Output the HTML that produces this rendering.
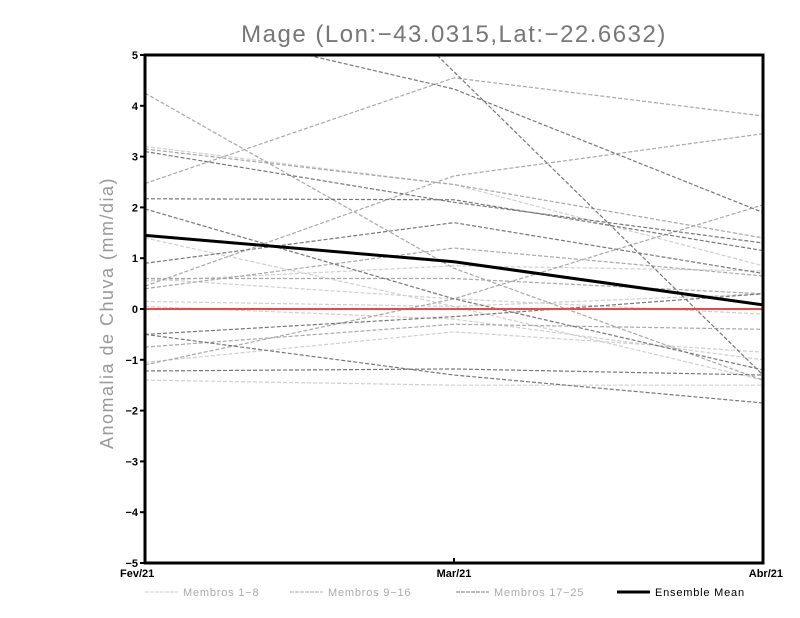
<!DOCTYPE html>
<html><head><meta charset="utf-8"><style>body{margin:0;background:#fff}svg{display:block;font-family:"Liberation Sans",sans-serif}</style></head>
<body>
<svg id="c" width="800" height="618"></svg>
<script>
const categories=["Fev/21","Mar/21","Abr/21"];
const yTicks=[-5,-4,-3,-2,-1,0,1,2,3,4,5];
const membrosLight=[[3.2,2.45,0.85],[1.4,0.05,-1.4],[0.55,0.85,0.75],[0.15,0.05,0.3],[-1.4,-1.5,-1.5],[-1.05,-0.45,-0.85],[0.05,-0.2,-1.0],[0.6,0.2,-0.1]];
const membrosMid=[[4.25,0.8,-1.4],[3.15,2.45,1.4],[2.47,4.55,3.8],[0.45,2.62,3.45],[0.4,1.2,0.65],[-1.1,0.2,2.05],[-0.75,-0.3,-0.4],[0.6,0.6,0.3]];
const membrosDark=[[5.74,4.33,1.9],[10.6,4.67,-1.3],[2.17,2.15,1.15],[1.97,0.2,-1.2],[0.9,1.7,0.7],[-0.5,-0.15,0.3],[-0.5,-1.3,-1.85],[-1.22,-1.18,-1.3],[3.1,2.1,1.3]];
const ensembleMean=[1.45,0.93,0.08];
const X0=145,X1=763,Y0=55,Y1=563;
const xs=i=>X0+(X1-X0)*i/(categories.length-1);
const ys=v=>Y1-(v+5)/10*(Y1-Y0);
const svg=document.getElementById('c');const NS='http://www.w3.org/2000/svg';
function mk(t,a,p){const e=document.createElementNS(NS,t);for(const k in a)e.setAttribute(k,a[k]);(p||svg).appendChild(e);return e;}
const defs=mk('defs',{});const cp=mk('clipPath',{id:'cp'},defs);mk('rect',{x:X0,y:Y0,width:X1-X0,height:Y1-Y0},cp);
const g=mk('g',{'clip-path':'url(#cp)'});
function series(arr,col,name){arr.forEach((s,j)=>{const p=mk('polyline',{points:s.map((v,i)=>xs(i)+','+ys(v)).join(' '),fill:'none',stroke:col,'stroke-width':1.2,'stroke-dasharray':'4,2'},g);

});}
series(membrosLight,'#cfcfcf','membro-light');
series(membrosMid,'#a8a8a8','membro-mid');
series(membrosDark,'#777','membro-dark');
const z=mk('line',{x1:X0,x2:X1,y1:ys(0),y2:ys(0),stroke:'#f04848','stroke-width':2},g);


const m=mk('polyline',{points:ensembleMean.map((v,i)=>xs(i)+','+ys(v)).join(' '),fill:'none',stroke:'#000','stroke-width':3},g);


const fr=mk('rect',{x:X0,y:Y0,width:X1-X0,height:Y1-Y0,fill:'none',stroke:'#000','stroke-width':3});


yTicks.forEach(v=>{mk('line',{x1:X0-5,x2:X0,y1:ys(v),y2:ys(v),stroke:'#000','stroke-width':2});
const t=mk('text',{x:X0-7,y:ys(v)+4,'text-anchor':'end','font-size':11,'font-weight':'bold'});t.textContent=v<0?'−'+(-v):v;

});
categories.forEach((c,i)=>{mk('line',{x1:xs(i),x2:xs(i),y1:Y1,y2:Y1-5,stroke:'#000','stroke-width':2});
const t=mk('text',{x:xs(i),y:Y1+14,'text-anchor':i==0?'start':i==2?'end':'middle','font-size':11,'font-weight':'bold'});t.textContent=c;
if(i==0)t.setAttribute('x',X0-25);if(i==2)t.setAttribute('x',X1+20);

});
const ti=mk('text',{x:454,y:42,'text-anchor':'middle','font-size':24,fill:'#777','letter-spacing':'1.5'});ti.textContent='Mage (Lon:−43.0315,Lat:−22.6632)';


const yt=mk('text',{x:113,y:313,'text-anchor':'middle','font-size':18,fill:'#999','letter-spacing':'1.5',transform:'rotate(-90 113 313)'});yt.textContent='Anomalia de Chuva (mm/dia)';


const leg=[['Membros 1−8','#cfcfcf',145,'4,1'],['Membros 9−16','#a8a8a8',290,'4,1'],['Membros 17−25','#777',456,'4,1'],['Ensemble Mean','#000',617,'']];
leg.forEach(l=>{const lg=mk('g',{});


mk('line',{x1:l[2],x2:l[2]+33,y1:592,y2:592,stroke:l[1],'stroke-width':l[3]?1:3,'stroke-dasharray':l[3]},lg);
const t=mk('text',{x:l[2]+38,y:596,'font-size':11,fill:l[3]?'#aaa':'#000','letter-spacing':'0.8'},lg);t.textContent=l[0];});
</script>
</body></html>
